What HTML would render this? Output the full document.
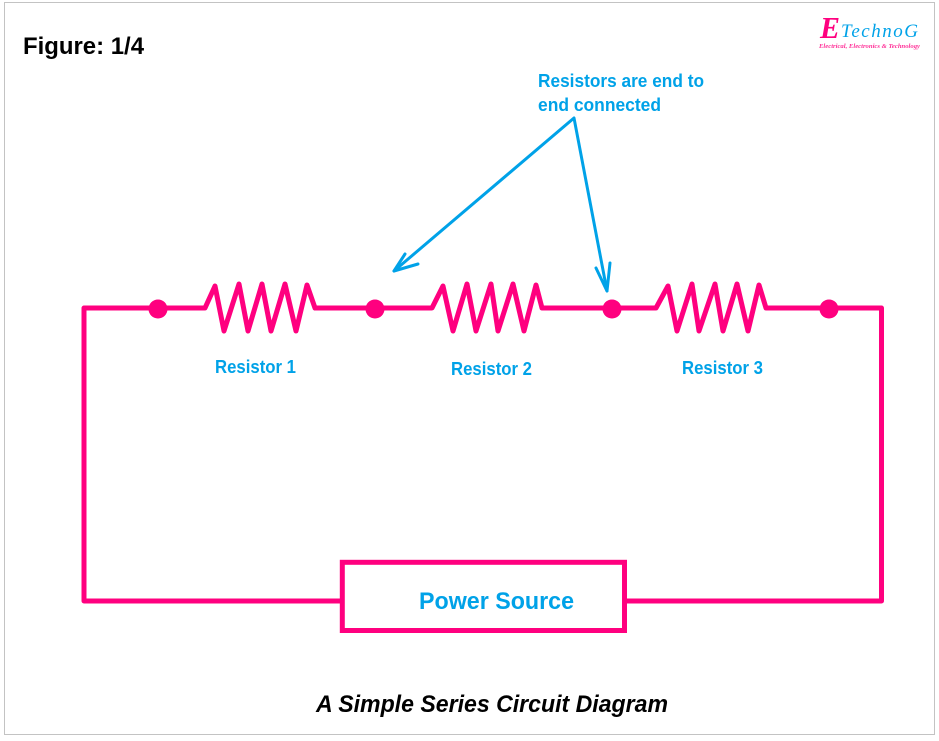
<!DOCTYPE html>
<html>
<head>
<meta charset="utf-8">
<style>
html,body{margin:0;padding:0;background:#fff;width:939px;height:741px;overflow:hidden}
svg{display:block}
text{font-family:"Liberation Sans",sans-serif;font-weight:bold}
</style>
</head>
<body>
<svg width="939" height="741" viewBox="0 0 939 741" xmlns="http://www.w3.org/2000/svg">
<rect x="4.5" y="2.5" width="930" height="732" fill="#fff" stroke="#c3c3c3" stroke-width="1"/>

<g fill="none" stroke="#ff007f" stroke-width="5" stroke-linejoin="round" stroke-linecap="round">
<path d="M342 601H84V308H205L215 286L224 331L239 284L248 331L262 284L271 331L285 284L296 331L307 285L315 308H432L443 286L453 331L467 284L476 331L491 284L498 331L513 284L524 331L536 285L542 308H656L668 286L677 331L692 284L699 331L715 284L723 331L737 284L748 331L759 285L766 308H881.500V601H625"/>
<rect x="342.300" y="562.300" width="282.200" height="68.200" stroke-linejoin="miter"/>
</g>
<g fill="#ff007f">
<circle cx="158" cy="309" r="9.500"/>
<circle cx="375" cy="309" r="9.500"/>
<circle cx="612" cy="309" r="9.500"/>
<circle cx="829" cy="309" r="9.500"/>
</g>

<g fill="none" stroke="#00a2e8" stroke-width="3" stroke-linecap="round" stroke-linejoin="round">
<path d="M394 271L574 118L607 291"/>
<path d="M405 254L394 271L418 264"/>
<path d="M596 268L607 291L610 263"/>
</g>

<g fill="#00a2e8">
<text x="538" y="87" font-size="18" textLength="166" lengthAdjust="spacingAndGlyphs">Resistors are end to</text>
<text x="538" y="111" font-size="18" textLength="123" lengthAdjust="spacingAndGlyphs">end connected</text>
<text x="215" y="373" font-size="18" textLength="81" lengthAdjust="spacingAndGlyphs">Resistor 1</text>
<text x="451" y="375" font-size="18" textLength="81" lengthAdjust="spacingAndGlyphs">Resistor 2</text>
<text x="682" y="374" font-size="18" textLength="81" lengthAdjust="spacingAndGlyphs">Resistor 3</text>
<text x="419" y="609" font-size="24" textLength="155" lengthAdjust="spacingAndGlyphs">Power Source</text>
</g>

<text x="23" y="54" font-size="24" fill="#000" textLength="121" lengthAdjust="spacingAndGlyphs">Figure: 1/4</text>
<text x="316" y="712" font-size="24" font-style="italic" fill="#000" textLength="352" lengthAdjust="spacingAndGlyphs">A Simple Series Circuit Diagram</text>

<text x="820" y="38" style="font-family:'Liberation Serif',serif" font-size="31" font-style="italic" fill="#ff007f" textLength="20" lengthAdjust="spacingAndGlyphs">E</text>
<text x="841" y="37" style="font-family:'Liberation Serif',serif;font-weight:normal" font-size="19" font-style="italic" fill="#00a2e8" textLength="77">TechnoG</text>
<text x="819" y="48" style="font-family:'Liberation Serif',serif" font-size="6.500" font-style="italic" fill="#ff3399" textLength="101" lengthAdjust="spacingAndGlyphs">Electrical, Electronics &amp; Technology</text>
</svg>
</body>
</html>
